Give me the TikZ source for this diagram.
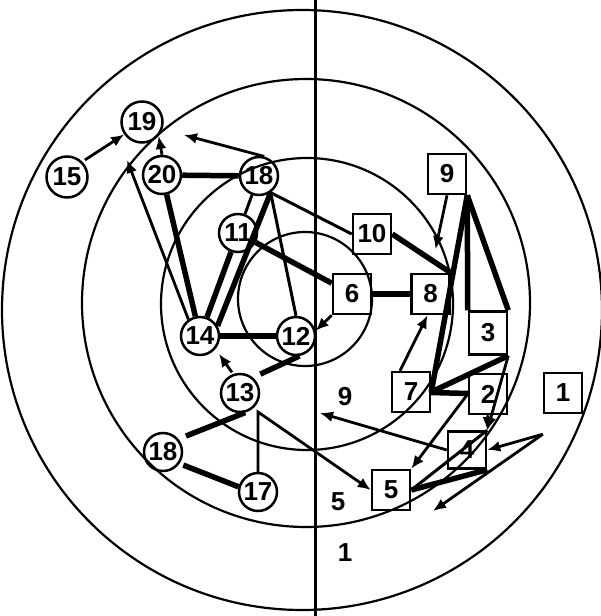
\documentclass[tikz,border=0pt]{standalone}
\usepackage{fontspec}
\setsansfont{Liberation Sans}
\usetikzlibrary{arrows.meta, positioning}

\begin{document}
\begin{tikzpicture}[
    x=1pt, y=-1pt,
    every node/.style={font=\sffamily\bfseries\fontsize{26}{28}\selectfont},
    station/.style={draw, circle, line width=2.5pt, minimum size=38pt, inner sep=0pt},
    block/.style={draw, rectangle, line width=2.5pt, minimum width=38pt, minimum height=40pt, inner sep=0pt},
    zone/.style={inner sep=0pt},
    ring/.style={line width=2.2pt},
    heavy/.style={line width=5.5pt},
    link/.style={line width=3pt},
    flow/.style={draw, line width=2.8pt, -{Latex[length=13pt,width=11pt]}}
  ]
    \useasboundingbox (0,0) rectangle (600,616);

    % Rings
    \draw[ring] (302,310) circle[radius=300];
    \draw[ring] (306,303) circle[radius=224];
    \draw[ring] (307,304) circle[radius=146];
    \draw[ring] (305,299) circle[radius=67];
    \draw[line width=3pt] (315,0) -- (315,616);

    % Stations
    \node[station, minimum size=41pt] (c19) at (142,122) {19};
    \node[station, minimum size=41pt] (c15) at (67,177) {15};
    \node[station] (c20) at (162,175) {20};
    \node[station] (c18a) at (259,176) {18};
    \node[station] (c11) at (238,233) {11};
    \node[station] (c14) at (200,336) {14};
    \node[station] (c12) at (296,336) {12};
    \node[station] (c13) at (240,393) {13};
    \node[station] (c18b) at (163,452) {18};
    \node[station] (c17) at (258,492) {17};

    % Blocks
    \node[block] (s9) at (447,174) {9};
    \node[block] (s10) at (372,234) {10};
    \node[block] (s6) at (352,294) {6};
    \node[block, right=38pt of s6] (s8) {8};
    \node[block] (s7) at (411,392) {7};
    \node[block, minimum height=43pt] (s3) at (488,333) {3};
    \node[block] (s2) at (488,394) {2};
    \node[block] (s1) at (563,393) {1};
    \node[block, minimum height=37pt] (s4) at (467,450) {4};
    \node[block] (s5) at (391,490) {5};

    % Zones
    \node[zone] (z9) at (345,397) {9};
    \node[zone] (z5) at (338,502) {5};
    \node[zone] (z1) at (345,553) {1};

    \coordinate (p19a) at (127,160);
    \coordinate (p19b) at (184,135);
    \coordinate (pmid) at (320,413);
    \coordinate (pout) at (433,511);
    \coordinate (bend) at (258,412);

    % Links
    \draw[heavy] (c20) -- (c18a);
    \draw[heavy] (c20) -- (c14);
    \draw[heavy] (c11) -- (c14);
    \draw[heavy] (c18a.-55) -- (c14.30);
    \draw[heavy] (c11) -- (s6);
    \draw[heavy] (c14) -- (c12);
    \draw[heavy] (s6) -- (s8);
    \draw[heavy] (s10.east) -- (s8.north east);
    \draw[heavy] (s9.south east) -- (s7.east);
    \draw[heavy] (s9.south east) -- (s3.north west);
    \draw[heavy] (s9.south east) -- (s3.north east);
    \draw[heavy] (s3.south east) -- (s7.east);
    \draw[heavy] (s7) -- (s2);
    \draw[heavy, shorten <=8pt] (c13.50) -- (c12.-80);
    \draw[heavy, shorten <=8pt] (c18b.40) -- (c13.-75);
    \draw[heavy, shorten <=4pt] (c18b.-35) -- (c17.165);
    \draw[heavy] (s4.south east) -- (s5.east);
    \draw[link] (s4.north east) -- (s5.east);
    \draw[link] (c18a) -- (c11);
    \draw[link] (c18a.-55) -- (c12.north);
    \draw[link] (c18a.-55) -- (s10.west);

    % Arrows
    \draw[flow, shorten <=3pt] (c15.45) -- (c19.215);
    \draw[flow] (c20.north) -- (c19.-40);
    \draw[flow] (c18a.75) -- (p19b);
    \draw[flow] (c14.125) -- (p19a);
    \draw[flow] (s6.south west) -- (c12.15);
    \draw[flow, shorten >=24pt] (s9.south) -- (s8.north);
    \draw[flow] ([xshift=-11pt]s7.north) -- ([xshift=-3pt]s8.south);
    \draw[flow] (s2.west) -- (s5.north east);
    \draw[flow] (s2.south) -- (s4.north east);
    \draw[flow] (s3.south east) -- (s4.north east);
    \draw[flow] ([yshift=-20pt]s1.south west) -- (s4.east);
    \draw[flow] ([yshift=-20pt]s1.south west) -- (pout);
    \draw[flow] (s4.west) -- (pmid);
    \draw[flow, shorten <=2pt, shorten >=6pt] (c13.110) -- (c14.-40);
    \draw[flow] (c17.north) -- (bend) -- (s5.west);
\end{tikzpicture}
\end{document}
